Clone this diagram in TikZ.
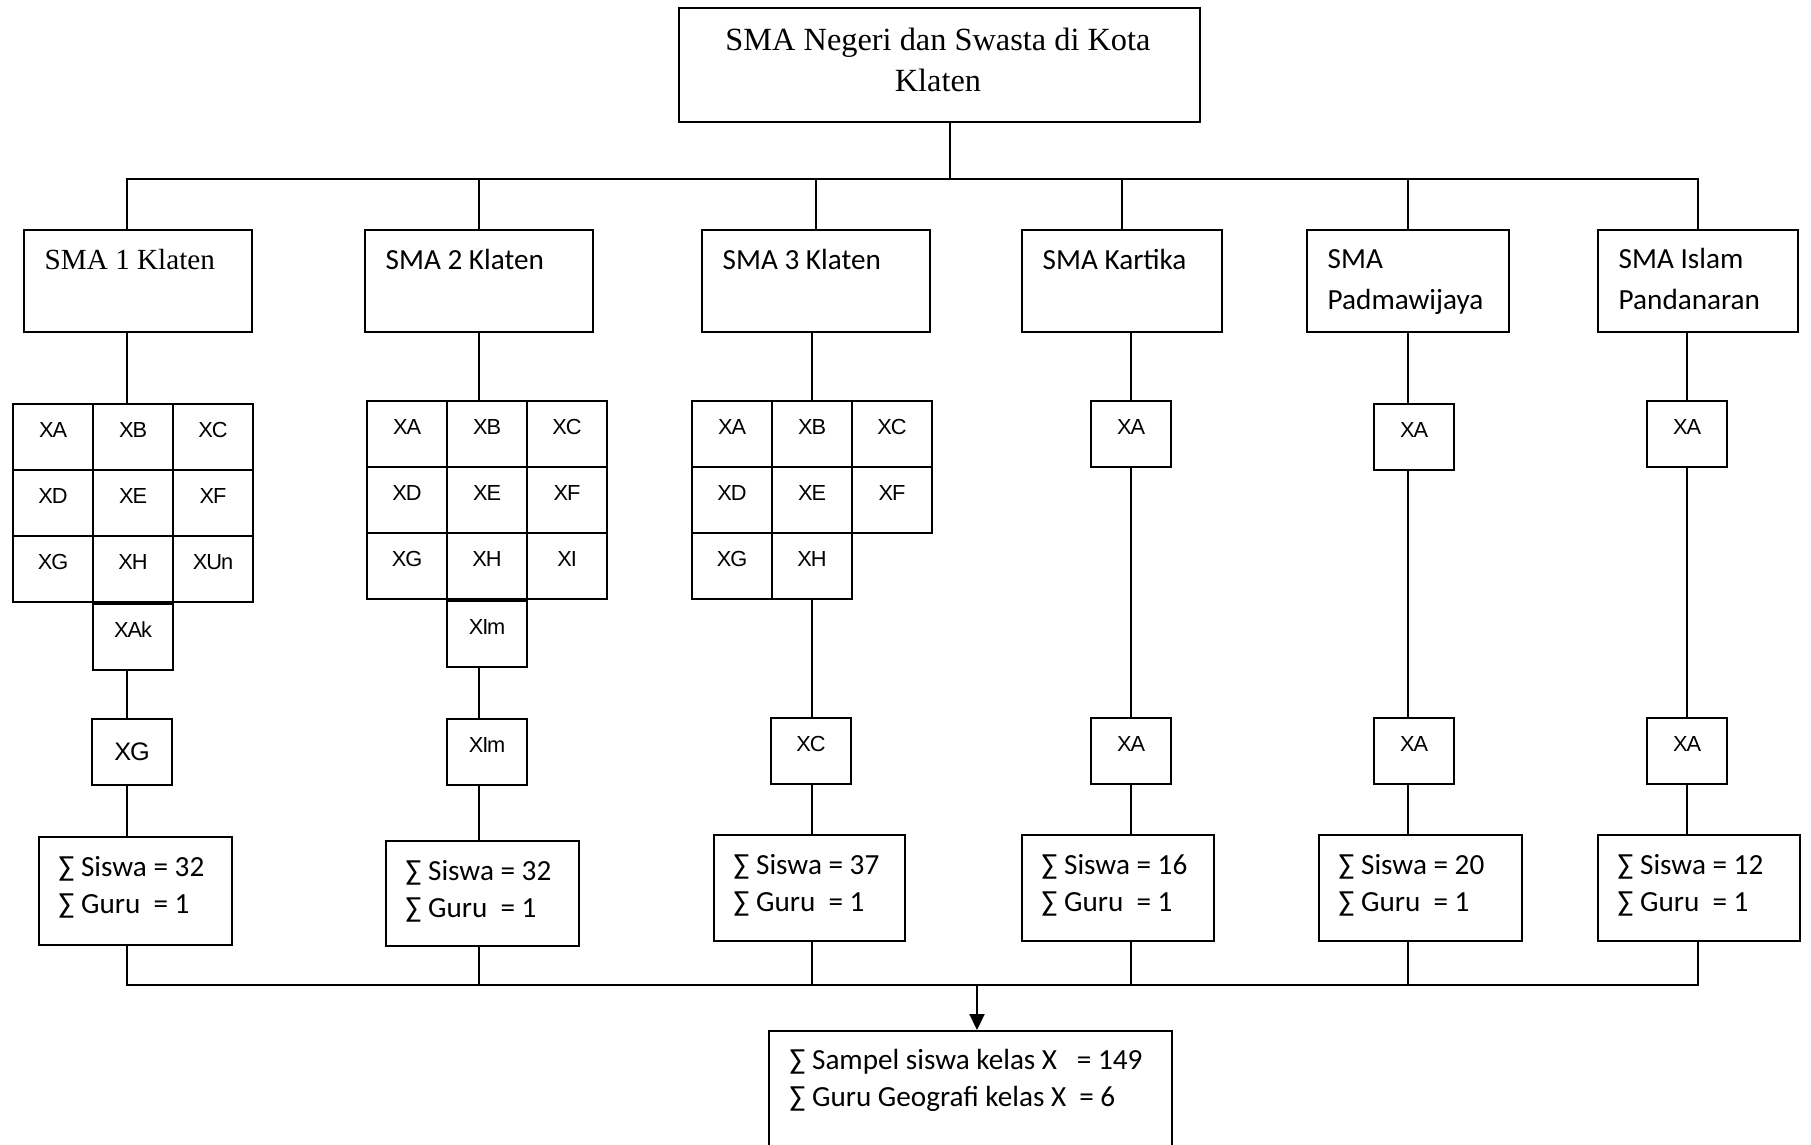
\documentclass[tikz,border=0pt]{standalone}
\usepackage{fontspec}
\setmainfont{Carlito}
\newfontfamily\timesfont{Liberation Serif}
\newfontfamily\arialfont[LetterSpace=-5]{Liberation Sans}
\usetikzlibrary{positioning,arrows.meta}

\tikzset{
  garis/.style={line width=0.6pt},
  kotak/.style={draw, rectangle, line width=0.6pt, inner sep=0pt, anchor=north west},
  sekolah/.style={kotak, minimum height=1.02cm},
  jumlah/.style={kotak, minimum height=1.06cm},
  sel/.style={kotak, minimum width=0.8cm, minimum height=0.66cm,
    font=\arialfont\fontsize{6.2}{7}\selectfont, text height=1.5mm, text depth=1.5mm},
  teks/.style={inner sep=0pt, align=left, anchor=base west, font=\fontsize{8.3}{11.4}\selectfont},
  jmlteks/.style={inner sep=0pt, align=left, anchor=base west, font=\fontsize{8.3}{10.5}\selectfont},
}

\begin{document}
\begin{tikzpicture}[x=0.01cm, y=-0.01cm]
	\path[use as bounding box, fill=white] (0,0) rectangle (1811,1144);
	% Puncak:
	\node[kotak, minimum width=5.21cm, minimum height=1.14cm] (puncak) at (678,7){};
	\node[font=\timesfont\fontsize{9.2}{11.8}\selectfont, align=center] (puncakt) at (938,60){SMA Negeri dan Swasta di Kota\\Klaten};
	% Sekolah:
	\node[sekolah, minimum width=2.28cm] (sma1) at (23,229){};
	\node[sekolah, minimum width=2.28cm] (sma2) at (364,229){};
	\node[sekolah, minimum width=2.28cm] (sma3) at (701,229){};
	\node[sekolah, minimum width=2.00cm] (sma4) at (1021,229){};
	\node[sekolah, minimum width=2.02cm] (sma5) at (1306,229){};
	\node[sekolah, minimum width=2.00cm] (sma6) at (1597,229){};
	\node[teks, font=\timesfont\fontsize{8.3}{11.4}\selectfont, below right=0.4cm and 0.21cm of sma1.north west, anchor=base west] (sma1t){SMA 1 Klaten};
	\node[teks, below right=0.4cm and 0.21cm of sma2.north west, anchor=base west] (sma2t){SMA 2 Klaten};
	\node[teks, below right=0.4cm and 0.21cm of sma3.north west, anchor=base west] (sma3t){SMA 3 Klaten};
	\node[teks, below right=0.4cm and 0.21cm of sma4.north west, anchor=base west] (sma4t){SMA Kartika};
	% two lines: the base is on the second line
	\node[teks, below right=0.8cm and 0.21cm of sma5.north west, anchor=base west] (sma5t){SMA\\Padmawijaya};
	\node[teks, below right=0.8cm and 0.21cm of sma6.north west, anchor=base west] (sma6t){SMA Islam\\Pandanaran};
	% Kelas:
	\foreach \t [count=\k from 0] in {XA,XB,XC,XD,XE,XF,XG,XH,XUn}{
		\pgfmathtruncatemacro{\kol}{mod(\k,3)}
		\pgfmathtruncatemacro{\brs}{div(\k,3)}
		\node[sel] (a\k) at (12+80*\kol, 403+66*\brs){\t};
	}
	\node[sel] (a9) at (a7.south west){XAk};
	\foreach \t [count=\k from 0] in {XA,XB,XC,XD,XE,XF,XG,XH,XI}{
		\pgfmathtruncatemacro{\kol}{mod(\k,3)}
		\pgfmathtruncatemacro{\brs}{div(\k,3)}
		\node[sel] (b\k) at (366+80*\kol, 400+66*\brs){\t};
	}
	\node[sel] (b9) at (b7.south west){XIm};
	\foreach \t [count=\k from 0] in {XA,XB,XC,XD,XE,XF,XG,XH}{
		\pgfmathtruncatemacro{\kol}{mod(\k,3)}
		\pgfmathtruncatemacro{\brs}{div(\k,3)}
		\node[sel] (c\k) at (691+80*\kol, 400+66*\brs){\t};
	}
	\node[sel] (d0) at (1090,400){XA};
	\node[sel] (e0) at (1373,403){XA};
	\node[sel] (f0) at (1646,400){XA};
	% Sampel kelas:
	\node[sel, font=\arialfont\fontsize{7.2}{8}\selectfont, text height=, text depth=] (xa) at (91,718){XG};
	\node[sel] (xb) at (446,718){XIm};
	\node[sel] (xc) at (770,717){XC};
	\node[sel] (xd) at (1090,717){XA};
	\node[sel] (xe) at (1373,717){XA};
	\node[sel] (xf) at (1646,717){XA};
	% Jumlah:
	\node[jumlah, minimum width=1.93cm, minimum height=1.08cm] (jml1) at (38,836){};
	\node[jumlah, minimum width=1.93cm, minimum height=1.05cm] (jml2) at (385,840){};
	\node[jumlah, minimum width=1.91cm] (jml3) at (713,834){};
	\node[jumlah, minimum width=1.92cm] (jml4) at (1021,834){};
	\node[jumlah, minimum width=2.03cm] (jml5) at (1318,834){};
	\node[jumlah, minimum width=2.02cm] (jml6) at (1597,834){};
	\node[jmlteks, below right=0.77cm and 0.2cm of jml1.north west, anchor=base west] (jml1t){∑ Siswa = 32\\∑ Guru\ \ = 1};
	\node[jmlteks, below right=0.77cm and 0.2cm of jml2.north west, anchor=base west] (jml2t){∑ Siswa = 32\\∑ Guru\ \ = 1};
	\node[jmlteks, below right=0.77cm and 0.2cm of jml3.north west, anchor=base west] (jml3t){∑ Siswa = 37\\∑ Guru\ \ = 1};
	\node[jmlteks, below right=0.77cm and 0.2cm of jml4.north west, anchor=base west] (jml4t){∑ Siswa = 16\\∑ Guru\ \ = 1};
	\node[jmlteks, below right=0.77cm and 0.2cm of jml5.north west, anchor=base west] (jml5t){∑ Siswa = 20\\∑ Guru\ \ = 1};
	\node[jmlteks, below right=0.77cm and 0.2cm of jml6.north west, anchor=base west] (jml6t){∑ Siswa = 12\\∑ Guru\ \ = 1};
	% Hasil:
	\node[kotak, minimum width=4.03cm, minimum height=1.4cm] (hasil) at (768,1030){};
	\node[jmlteks, below right=0.76cm and 0.21cm of hasil.north west, anchor=base west] (hasilt){∑ Sampel siswa kelas X\ \ \ = 149\\∑ Guru Geografi kelas X\ \ = 6};
	% Garis:
	\coordinate (cabang) at (950,179);
	\coordinate (gabung) at (977,985);
	\coordinate (kolA) at (127,0);
	\draw[garis] (puncak.south -| cabang) -- (cabang);
	\draw[garis] (kolA |- sma1.north) |- (cabang) -| (sma6.north);
	\foreach \n in {sma2,sma3,sma4,sma5}
		\draw[garis] (\n.north) -- (\n.north |- cabang);
	\draw[garis] (sma1.south -| kolA) -- (a1.north -| kolA);
	\draw[garis] (sma2.south) -- (sma2.south |- b1.north);
	\draw[garis] (sma3.south -| c1.north) -- (c1.north);
	\draw[garis] (sma4.south -| d0.north) -- (d0.north);
	\draw[garis] (sma5.south) -- (sma5.south |- e0.north);
	\draw[garis] (sma6.south -| f0.north) -- (f0.north);
	\draw[garis] (a9.south -| kolA) -- (xa.north -| kolA);
	\draw[garis] (b9.south -| sma2.south) -- (xb.north -| sma2.south);
	\draw[garis] (c7.south -| c1.north) -- (xc.north -| c1.north);
	\draw[garis] (d0.south) -- (xd.north);
	\draw[garis] (e0.south -| sma5.south) -- (xe.north -| sma5.south);
	\draw[garis] (f0.south) -- (xf.north);
	\draw[garis] (xa.south -| kolA) -- (jml1.north -| kolA);
	\draw[garis] (xb.south -| sma2.south) -- (jml2.north -| sma2.south);
	\draw[garis] (xc.south -| c1.north) -- (jml3.north -| c1.north);
	\draw[garis] (xd.south) -- (xd.south |- jml4.north);
	\draw[garis] (xe.south -| sma5.south) -- (jml5.north -| sma5.south);
	\draw[garis] (xf.south) -- (xf.south |- jml6.north);
	\draw[garis] (jml1.south -| kolA) |- (gabung) -| (jml6.south -| sma6.north);
	\draw[garis] (jml2.south -| sma2.south) -- (sma2.south |- gabung);
	\draw[garis] (jml3.south -| c1.north) -- (c1.north |- gabung);
	\draw[garis] (jml4.south -| xd.south) -- (xd.south |- gabung);
	\draw[garis] (jml5.south -| sma5.south) -- (sma5.south |- gabung);
	\draw[garis, -{Triangle[length=1.6mm, width=1.5mm]}] (gabung) -- (gabung |- hasil.north);
\end{tikzpicture}
\end{document}
